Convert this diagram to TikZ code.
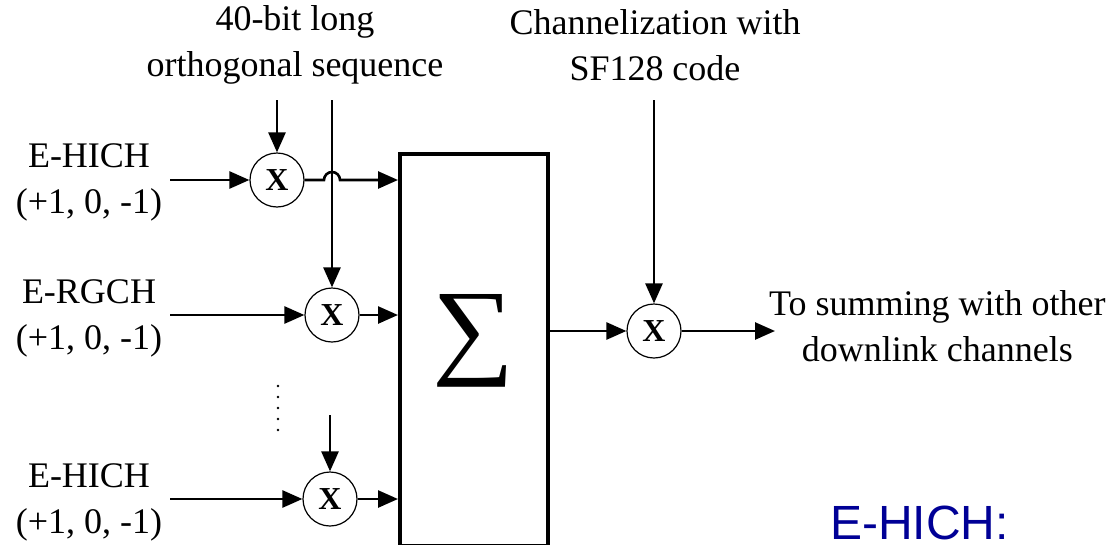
\documentclass[tikz,border=0pt]{standalone}
\usepackage{fontspec}
\setmainfont{Liberation Serif}
\newfontfamily\labelsans{Liberation Sans}
\usetikzlibrary{arrows.meta}
\definecolor{titleblue}{RGB}{0,0,150}
\tikzset{
  sig/.style={line width=2.6pt, -{Triangle[length=20pt,width=17pt]}},
  mult/.style={circle, draw, line width=1.2pt, minimum size=54pt, inner sep=0pt, font=\fontsize{32}{32}\selectfont\bfseries},
  lbl/.style={font=\fontsize{36}{46}\selectfont, align=center, inner sep=0pt},
}
\begin{document}
\begin{tikzpicture}[x=1pt, y=-1pt]
\useasboundingbox (0,0) rectangle (1112,544);

% summing block
\node[draw, line width=3.5pt, minimum width=148pt, minimum height=392pt, inner sep=0pt, anchor=north west] (sum) at (398,152) {};
\node[inner sep=0pt] (sigma) at (474,341) {\resizebox{82pt}{70pt}{∑}};

% multipliers
\node[mult] (m1) at (277,180) {X};
\node[mult] (m2) at (332,315) {X};
\node[mult] (m3) at (330,499) {X};
\node[mult] (m4) at (654,331) {X};

% texts
\node[lbl] (seq) at (295,45) {40-bit long\\orthogonal sequence};
\node[lbl] (chan) at (655,45) {Channelization with\\SF128 code};
\node[lbl] (in1) at (89,182) {E-HICH\\(+1, 0, -1)};
\node[lbl] (in2) at (89,318) {E-RGCH\\(+1, 0, -1)};
\node[lbl] (in3) at (89,502) {E-HICH\\(+1, 0, -1)};
\node[lbl, anchor=west] (out) at (769,326) {To summing with other\\downlink channels};
\node[font=\fontsize{48}{48}\selectfont\labelsans, text=titleblue, anchor=base west, inner sep=0pt] (ehich) at (830,539) {E-HICH:};

% free ends
\coordinate (s1) at (277,100);
\coordinate (s2) at (332,100);
\coordinate (s3) at (330,415);
\coordinate (c1) at (654,100);
\coordinate (i1) at (170,180);
\coordinate (i2) at (170,315);
\coordinate (i3) at (170,499);
\coordinate (o1) at (775,331);

% inputs
\draw[sig] (i1) -- (m1.west);
\draw[sig] (i2) -- (m2.west);
\draw[sig] (i3) -- (m3.west);

% spreading sequences
\draw[sig] (s1) -- (m1.north);
\draw[sig] (s2) -- (m2.north);
\draw[sig] (s3) -- (m3.north);

% outputs into the summing block, the first one hopping over the sequence line
\draw[sig] (m1.east) -- (324,180) arc (180:360:8) -- (sum.west |- m1);
\draw[sig] (m2.east) -- (sum.west |- m2);
\draw[sig] (m3.east) -- (sum.west |- m3);

% channelization
\draw[sig] (sum.east |- m4) -- (m4.west);
\draw[sig] (c1) -- (m4.north);
\draw[sig] (m4.east) -- (o1);

% omitted branches
\foreach \k in {0,...,4} \fill (278,386+\k*11) circle (1.4pt);
\end{tikzpicture}
\end{document}
